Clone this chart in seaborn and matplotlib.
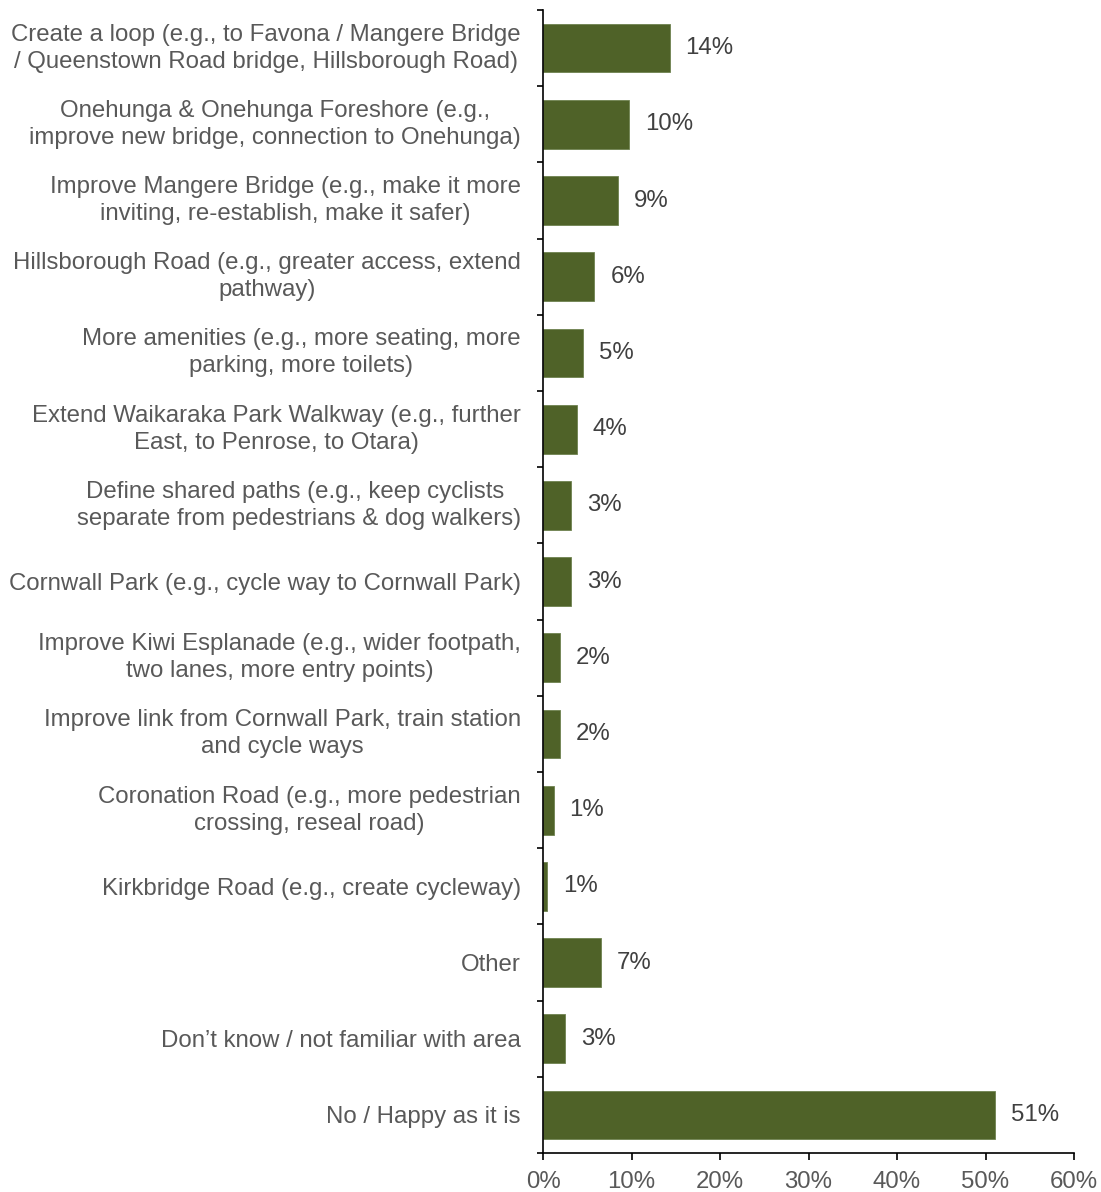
import math
import matplotlib
matplotlib.use("Agg")
import matplotlib.pyplot as plt
from matplotlib.ticker import FixedLocator, FuncFormatter
import pandas as pd
import seaborn as sns

categories = [
    "Create a loop (e.g., to Favona / Mangere Bridge\n/ Queenstown Road bridge, Hillsborough Road)",
    "Onehunga & Onehunga Foreshore (e.g.,\nimprove new bridge, connection to Onehunga)",
    "Improve Mangere Bridge (e.g., make it more\ninviting, re-establish, make it safer)",
    "Hillsborough Road (e.g., greater access, extend\npathway)",
    "More amenities (e.g., more seating, more\nparking, more toilets)",
    "Extend Waikaraka Park Walkway (e.g., further\nEast, to Penrose, to Otara)",
    "Define shared paths (e.g., keep cyclists \nseparate from pedestrians & dog walkers)",
    "Cornwall Park (e.g., cycle way to Cornwall Park)",
    "Improve Kiwi Esplanade (e.g., wider footpath,\ntwo lanes, more entry points)",
    "Improve link from Cornwall Park, train station\nand cycle ways",
    "Coronation Road (e.g., more pedestrian\ncrossing, reseal road)",
    "Kirkbridge Road (e.g., create cycleway)",
    "Other",
    "Don\u2019t know / not familiar with area",
    "No / Happy as it is",
]
percent = [14.3, 9.7, 8.5, 5.8, 4.5, 3.8, 3.2, 3.2, 1.9, 1.9, 1.2, 0.5, 6.5, 2.5, 51.1]
x_ticks = [0, 10, 20, 30, 40, 50, 60]

df = pd.DataFrame({"category": categories, "percent": percent})

sns.set_theme(style="white")
plt.rcParams["font.family"] = ["Liberation Sans", "DejaVu Sans"]

bar_color = "#4F6228"
label_color = "#595959"
fs = 17.3

fig = plt.figure(figsize=(11.01, 11.92), dpi=100)
ax = fig.add_axes([0.4932, 0.0327, 0.4823, 0.9589])

sns.barplot(data=df, y="category", x="percent", orient="h", color=bar_color,
            width=0.64, saturation=1, edgecolor="#6f8250", linewidth=0.6, ax=ax)

ax.set_xlim(0, 60)
ax.set_ylim(len(categories) - 0.5, -0.5)
ax.xaxis.set_major_locator(FixedLocator(x_ticks))
ax.xaxis.set_major_formatter(FuncFormatter(lambda v, p: f"{v:.0f}%"))
ax.set_xlabel("")
ax.set_ylabel("")

# value labels, rounded half-up to whole percent
for i, v in enumerate(percent):
    ax.annotate(f"{math.floor(v + 0.5)}%", xy=(v, i), xytext=(11.5, 0),
                textcoords="offset points", ha="left", va="center",
                fontsize=fs, color="#404040")

for side in ("top", "right"):
    ax.spines[side].set_visible(False)
for side in ("left", "bottom"):
    ax.spines[side].set_color("black")
    ax.spines[side].set_linewidth(1.2)

# boundary ticks between categories on the y axis
ax.yaxis.set_minor_locator(FixedLocator([k - 0.5 for k in range(len(categories) + 1)]))
ax.tick_params(axis="y", which="major", length=0, pad=16, labelsize=fs,
               labelcolor=label_color)
ax.tick_params(axis="y", which="minor", left=True, length=4.5, width=1.2,
               color="black")
ax.tick_params(axis="x", which="major", bottom=True, length=5, width=1.2,
               color="black", pad=8, labelsize=fs, labelcolor=label_color)
for t in ax.get_yticklabels():
    t.set_horizontalalignment("right")
    t.set_multialignment("center")
    t.set_linespacing(1.3)
    if "\n" in t.get_text():
        t.set_verticalalignment("center")

fig.savefig("out.png", dpi=100)
